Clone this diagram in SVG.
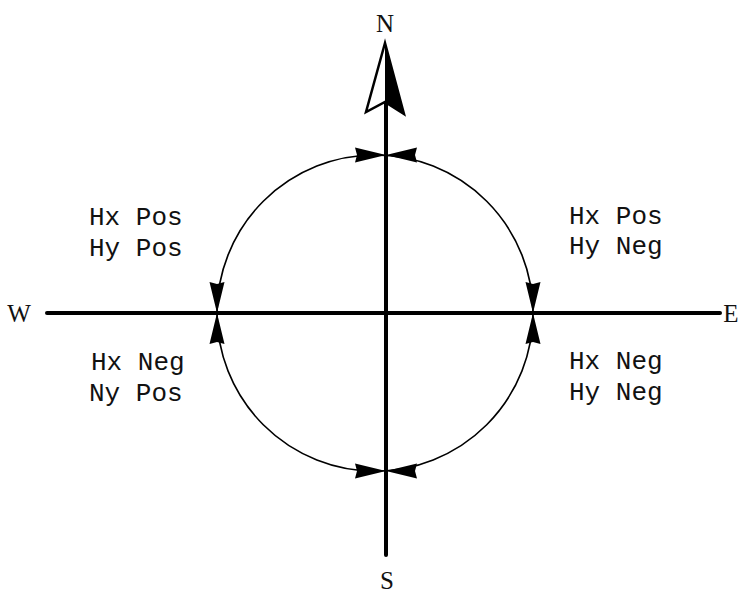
<svg xmlns="http://www.w3.org/2000/svg" width="740" height="594" viewBox="0 0 740 594">
<style>
.lbl{font-family:"Liberation Mono","Courier New",monospace;font-size:26px;fill:#111}
.dir{font-family:"Liberation Serif","Times New Roman",serif;font-size:25px;fill:#111;text-anchor:middle}
.axis{stroke:#000;stroke-width:4;stroke-linecap:round;fill:none}
.ring{stroke:#000;stroke-width:1.6;fill:none}
</style>
<defs>
<path id="ah" d="M0,0 L-31,-7.5 L-29,0 L-31,7.5 Z" fill="#000"/>
</defs>
<rect width="740" height="594" fill="#fff"/>
<g id="connectors">
<circle class="ring" cx="375" cy="313" r="158"/>
<line class="axis" x1="47" y1="313" x2="720" y2="313"/>
<line class="axis" x1="386" y1="100" x2="386" y2="555"/>
<use href="#ah" transform="translate(386,155)"/>
<use href="#ah" transform="translate(386,155) rotate(180)"/>
<use href="#ah" transform="translate(386,471)"/>
<use href="#ah" transform="translate(386,471) rotate(180)"/>
<use href="#ah" transform="translate(217,313) rotate(90)"/>
<use href="#ah" transform="translate(217,313) rotate(-90)"/>
<use href="#ah" transform="translate(533,313) rotate(90)"/>
<use href="#ah" transform="translate(533,313) rotate(-90)"/>
</g>
<g id="north-arrow">
<polygon points="385,43 404,114 385,102 366,112" fill="#fff" stroke="#000" stroke-width="2.5" stroke-linejoin="miter"/>
<polygon points="385,43 404,114 385,102" fill="#000"/>
</g>
<g id="label-N"><text class="dir" x="385" y="32">N</text></g>
<g id="label-S"><text class="dir" x="387" y="589">S</text></g>
<g id="label-E"><text class="dir" x="731" y="322">E</text></g>
<g id="label-W"><text class="dir" x="19" y="322">W</text></g>
<g id="q-nw">
<text class="lbl" x="89" y="225">Hx Pos</text>
<text class="lbl" x="89" y="256">Hy Pos</text>
</g>
<g id="q-ne">
<text class="lbl" x="569" y="224">Hx Pos</text>
<text class="lbl" x="569" y="254">Hy Neg</text>
</g>
<g id="q-sw">
<text class="lbl" x="91" y="370">Hx Neg</text>
<text class="lbl" x="89" y="401">Ny Pos</text>
</g>
<g id="q-se">
<text class="lbl" x="569" y="369">Hx Neg</text>
<text class="lbl" x="569" y="400">Hy Neg</text>
</g>
</svg>
